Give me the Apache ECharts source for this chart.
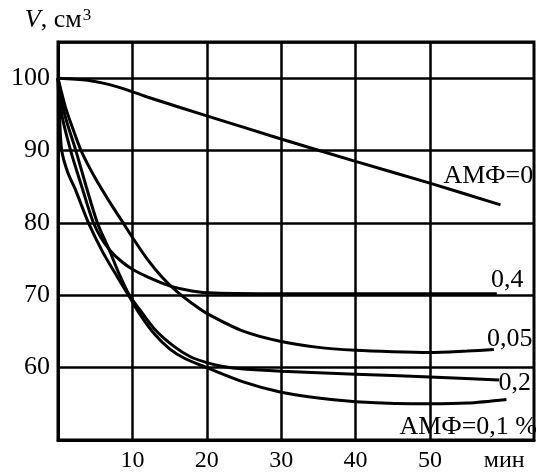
<!DOCTYPE html>
<html>
<head>
<meta charset="utf-8">
<script src="https://cdn.jsdelivr.net/npm/echarts@6/dist/echarts.min.js"></script>
<style>
html, body { margin: 0; padding: 0; background: #fff; }
#chart { width: 542px; height: 473px; }
</style>
</head>
<body>
<div id="chart"></div>
<script>
// time, min / volume, cm3
var amf0 = [[0, 100], [4, 99.7], [8, 98.8], [12, 97.4], [20, 94.8], [30, 91.6], [40, 88.5], [50, 85.5], [59.5, 82.5]];
var amf04 = [[0, 100], [0.5, 95], [1.7, 90], [3.2, 85], [4.7, 80.2], [5.8, 77.9], [7, 76.2], [8.5, 74.7], [10, 73.6],
    [12.1, 72.5], [15, 71.3], [18, 70.6], [21, 70.3], [30, 70.2], [45, 70.2], [59, 70.2]];
var amf005 = [[0, 100], [1, 96], [2, 93], [3.1, 90], [5, 86.2], [7, 82.8], [8.7, 80.1], [10, 78], [12, 75],
    [14, 72.5], [16, 70.5], [18, 68.9], [20, 67.5], [25, 65], [30, 63.6], [35, 62.8], [40, 62.4],
    [45, 62.2], [50, 62.1], [55, 62.3], [58.6, 62.5]];
var amf02 = [[0, 100], [0.9, 95], [2.4, 90], [3.8, 85], [5.3, 80], [6.8, 76.5], [8.2, 73], [9.6, 70], [11, 68],
    [13, 65.3], [15.5, 63], [17.8, 61.5], [20, 60.7], [22, 60.2], [25, 59.8], [30, 59.5], [40, 59.1], [50, 58.7], [59.3, 58.3]];
var amf01 = [[0, 100], [0.2, 95], [0.5, 90], [1.3, 87], [2.3, 84.7], [4.1, 80], [6, 76], [8, 72.5], [9.6, 69.8],
    [11, 67.4], [13, 64.6], [15, 62.6], [17, 61.3], [20, 60], [25, 58], [30, 56.6], [35, 55.8], [40, 55.3],
    [50, 55], [55, 55.1], [60.3, 55.6]];
var xGrid = [10, 20, 30, 40, 50];
var curveNames = ['АМФ=0', '0,4', '0,05', '0,2', 'АМФ=0,1 %'];

var font = 'Liberation Serif';
var chart = echarts.init(document.getElementById('chart'));

function curve(name, data, labelAt, shift) {
    return {
        name: name,
        type: 'line',
        data: data,
        smooth: 0.3,
        symbol: 'none',
        lineStyle: { color: '#000', width: 3 },
        markPoint: {
            symbol: 'circle',
            symbolSize: 0,
            silent: true,
            data: [{ coord: labelAt }],
            label: {
                show: true,
                position: 'left',
                distance: 0,
                offset: [shift || 0, 0],
                formatter: name,
                color: '#000',
                fontFamily: font,
                fontSize: 26
            }
        }
    };
}

var series = [
    curve(curveNames[0], amf0, [63.9, 86.5]),
    curve(curveNames[1], amf04, [62.6, 72.1]),
    curve(curveNames[2], amf005, [63.8, 64.0]),
    curve(curveNames[3], amf02, [63.6, 57.8]),
    curve(curveNames[4], amf01, [64, 51.8], 3)
];
series[0].markLine = {
    silent: true,
    symbol: 'none',
    label: { show: false },
    lineStyle: { color: '#000', width: 2.5, type: 'solid' },
    data: xGrid.map(function (v) { return { xAxis: v }; })
};

chart.setOption({
    animation: false,
    grid: {
        left: 58, top: 42, right: 8, bottom: 28,
        show: true, borderColor: '#000', borderWidth: 3
    },
    xAxis: {
        type: 'value',
        min: 0, max: 64, interval: 10,
        axisLine: { show: true, lineStyle: { color: '#000', width: 3 } },
        axisTick: { show: false },
        splitLine: { show: false },
        axisLabel: {
            color: '#000', fontFamily: font, fontSize: 24, margin: 9,
            formatter: function (v) {
                if (v === 60) return 'мин';
                if (v === 0 || v > 60) return '';
                return v;
            }
        }
    },
    yAxis: {
        type: 'value',
        min: 50, max: 105, interval: 10,
        name: '{it|V}{n|, см}{sup|3}',
        nameLocation: 'end',
        nameGap: 8,
        nameTextStyle: {
            rich: {
                it: { fontFamily: font, fontSize: 26, fontStyle: 'italic', color: '#000' },
                n: { fontFamily: font, fontSize: 26, color: '#000' },
                sup: { fontFamily: font, fontSize: 17, color: '#000', verticalAlign: 'top', padding: [0, 0, 10, 1] }
            }
        },
        axisLine: { show: true, lineStyle: { color: '#000', width: 3 } },
        axisTick: { show: false },
        splitLine: { show: true, lineStyle: { color: '#000', width: 2.5 } },
        axisLabel: {
            color: '#000', fontFamily: font, fontSize: 26, margin: 8,
            formatter: function (v) {
                return (v === 50 || v > 100) ? '' : v;
            }
        }
    },
    series: series
});
</script>
</body>
</html>
